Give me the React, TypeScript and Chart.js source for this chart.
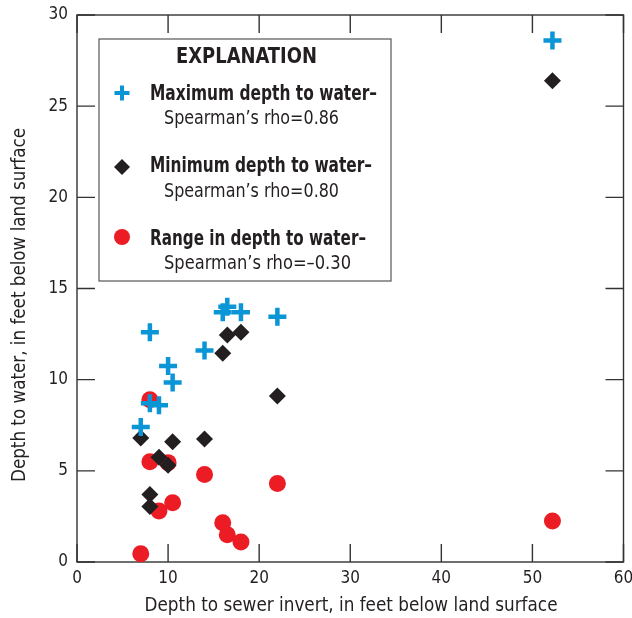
import React, { useEffect, useRef } from 'react';
import { Chart, registerables } from 'chart.js';

Chart.register(...registerables);

// Depth to sewer invert (x) for each site
const sewerDepth = [7, 8, 8, 9, 10, 10.5, 14, 16, 16.5, 18, 22, 52.2];
// Maximum depth to water
const maxDepth = [7.4, 12.6, 8.7, 8.6, 10.75, 9.85, 11.6, 13.7, 14.0, 13.7, 13.45, 28.6];
// Minimum depth to water
const minDepth = [6.8, 3.7, 3.05, 5.75, 5.3, 6.6, 6.75, 11.45, 12.45, 12.6, 9.1, 26.4];
// Range in depth to water
const rangeDepth = [0.45, 8.9, 5.5, 2.8, 5.45, 3.25, 4.8, 2.15, 1.5, 1.1, 4.3, 2.25];

const xTicks = [0, 10, 20, 30, 40, 50, 60];
const yTicks = [0, 5, 10, 15, 20, 25, 30];

const seriesLabels = ['Maximum depth to water–', 'Minimum depth to water–', 'Range in depth to water–'];
const rhoLabels = ['Spearman’s rho=0.86', 'Spearman’s rho=0.80', 'Spearman’s rho=–0.30'];

const BLUE = '#0a96d6';
const BLACK = '#231f20';
const RED = '#ec1c24';
const FONT = "'Liberation Sans Narrow', 'Arial Narrow', 'DejaVu Sans Condensed', sans-serif";

const xTitle = 'Depth to sewer invert, in feet below land surface';
const yTitle = 'Depth to water, in feet below land surface';

const toPts = (ys: number[]) => sewerDepth.map((x, i) => ({ x, y: ys[i] }));

const framePlugin = {
  id: 'frame',
  beforeDatasetsDraw(chart: any) {
    const { ctx, chartArea: a, scales } = chart;
    const tl = 18;
    ctx.save();
    ctx.strokeStyle = '#333';
    ctx.lineWidth = 1.4;
    ctx.strokeRect(a.left, a.top, a.right - a.left, a.bottom - a.top);
    ctx.beginPath();
    xTicks.forEach((v) => {
      const px = scales.x.getPixelForValue(v);
      ctx.moveTo(px, a.bottom);
      ctx.lineTo(px, a.bottom - tl);
      ctx.moveTo(px, a.top);
      ctx.lineTo(px, a.top + tl);
    });
    yTicks.forEach((v) => {
      const py = scales.y.getPixelForValue(v);
      ctx.moveTo(a.left, py);
      ctx.lineTo(a.left + tl, py);
      ctx.moveTo(a.right, py);
      ctx.lineTo(a.right - tl, py);
    });
    ctx.stroke();

    // axis titles
    ctx.fillStyle = BLACK;
    ctx.font = `20px ${FONT}`;
    ctx.textAlign = 'center';
    ctx.textBaseline = 'alphabetic';
    ctx.fillText(xTitle, 351, 611, 413);
    ctx.save();
    ctx.translate(25, 305);
    ctx.rotate(-Math.PI / 2);
    ctx.fillText(yTitle, 0, 0, 354);
    ctx.restore();
    ctx.restore();
  },
  afterDraw(chart: any) {
    const { ctx } = chart;
    ctx.save();
    // legend box
    ctx.fillStyle = '#fff';
    ctx.fillRect(99, 39, 292, 242);
    ctx.strokeStyle = '#555';
    ctx.lineWidth = 1.2;
    ctx.strokeRect(99, 39, 292, 242);

    ctx.fillStyle = BLACK;
    ctx.textAlign = 'left';
    ctx.textBaseline = 'alphabetic';
    ctx.font = `bold 22px ${FONT}`;
    ctx.fillText('EXPLANATION', 176, 63, 141);

    const rows = [
      { my: 93, b1: 100, b2: 124, w1: 227, w2: 175 },
      { my: 167, b1: 172, b2: 197, w1: 222, w2: 175 },
      { my: 237, b1: 245, b2: 269, w1: 216, w2: 187 },
    ];
    rows.forEach((r, i) => {
      const mx = 122;
      if (i === 0) {
        ctx.strokeStyle = BLUE;
        ctx.lineWidth = 4;
        ctx.beginPath();
        ctx.moveTo(mx - 7.5, r.my);
        ctx.lineTo(mx + 7.5, r.my);
        ctx.moveTo(mx, r.my - 7.5);
        ctx.lineTo(mx, r.my + 7.5);
        ctx.stroke();
      } else if (i === 1) {
        ctx.fillStyle = BLACK;
        ctx.beginPath();
        ctx.moveTo(mx - 8, r.my);
        ctx.lineTo(mx, r.my - 8);
        ctx.lineTo(mx + 8, r.my);
        ctx.lineTo(mx, r.my + 8);
        ctx.closePath();
        ctx.fill();
      } else {
        ctx.fillStyle = RED;
        ctx.beginPath();
        ctx.arc(mx, r.my, 8, 0, Math.PI * 2);
        ctx.fill();
      }
      ctx.fillStyle = BLACK;
      ctx.textAlign = 'left';
      ctx.font = `bold 21px ${FONT}`;
      ctx.fillText(seriesLabels[i], 150, r.b1, r.w1);
      ctx.font = `19px ${FONT}`;
      ctx.fillText(rhoLabels[i], 164, r.b2, r.w2);
    });
    ctx.restore();
  },
};

export default function App() {
  const ref = useRef<HTMLCanvasElement | null>(null);
  useEffect(() => {
    if (!ref.current) return;
    const chart = new Chart(ref.current, {
      type: 'scatter',
      data: {
        datasets: [
          {
            label: seriesLabels[0],
            data: toPts(maxDepth),
            pointStyle: 'cross',
            pointRadius: 9,
            pointBorderWidth: 4.5,
            borderColor: BLUE,
            backgroundColor: BLUE,
          },
          {
            label: seriesLabels[1],
            data: toPts(minDepth),
            pointStyle: 'rectRot',
            pointRadius: 8.5,
            pointBorderWidth: 0,
            borderColor: BLACK,
            backgroundColor: BLACK,
          },
          {
            label: seriesLabels[2],
            data: toPts(rangeDepth),
            pointStyle: 'circle',
            pointRadius: 8.5,
            pointBorderWidth: 0,
            borderColor: RED,
            backgroundColor: RED,
          },
        ],
      },
      options: {
        responsive: false,
        animation: false,
        events: [],
        layout: { autoPadding: false, padding: { top: 15, right: 8.5, left: 0, bottom: 0 } },
        plugins: { legend: { display: false }, tooltip: { enabled: false } },
        scales: {
          x: {
            type: 'linear',
            min: 0,
            max: 60,
            grid: { display: false, drawTicks: false },
            border: { display: false },
            afterFit: (s: any) => { s.height = 56; s.paddingLeft = 0; s.paddingRight = 0; },
            afterBuildTicks: (s: any) => { s.ticks = xTicks.map((v) => ({ value: v })); },
            ticks: { padding: 6, color: BLACK, font: { family: FONT, size: 17 }, maxRotation: 0 },
          },
          y: {
            type: 'linear',
            min: 0,
            max: 30,
            grid: { display: false, drawTicks: false },
            border: { display: false },
            afterFit: (s: any) => { s.width = 77; s.paddingTop = 0; s.paddingBottom = 0; },
            afterBuildTicks: (s: any) => { s.ticks = yTicks.map((v) => ({ value: v })); },
            ticks: { padding: 9, color: BLACK, font: { family: FONT, size: 17 } },
          },
        },
      },
      plugins: [framePlugin],
    });
    return () => chart.destroy();
  }, []);
  return (
    <div style={{ position: 'absolute', left: 0, top: 0, width: 632, height: 618, background: '#fff' }}>
      <canvas ref={ref} width={632} height={618} style={{ display: 'block' }} />
    </div>
  );
}
